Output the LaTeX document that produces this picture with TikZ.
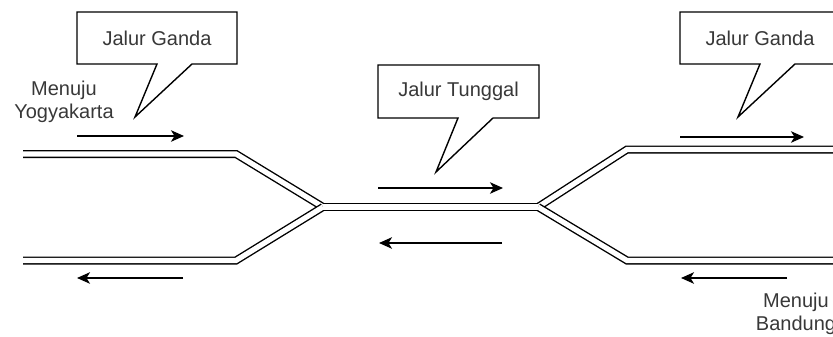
\documentclass[tikz,border=0pt]{standalone}
\usepackage{fontspec}
\setmainfont{Liberation Sans}
\usetikzlibrary{arrows.meta}
\begin{document}
\begin{tikzpicture}[x=1pt,y=-1pt,
  track/.style={line width=1.4pt,double=white,double distance=5.2pt,line join=miter},
  flow/.style={line width=1.5pt,-{Stealth[length=13pt,width=11.5pt,inset=3.5pt]}},
  callout/.style={draw=black,line width=1.4pt,fill=white,line join=miter},
  lbl/.style={text=black!78,font=\fontsize{20}{23}\selectfont,align=center,inner sep=0pt}]
\useasboundingbox (0,0) rectangle (833,337);
\clip (0,0) rectangle (833,337);

% track coordinates
\coordinate (tlA) at (23,154);
\coordinate (tlB) at (236,154);
\coordinate (blA) at (23,260.5);
\coordinate (blB) at (236,260.5);
\coordinate (jl) at (323,207);
\coordinate (jr) at (538,207);
\coordinate (trB) at (627,149.5);
\coordinate (trA) at (845,149.5);
\coordinate (brB) at (627,260.5);
\coordinate (brA) at (845,260.5);

\draw[track] (tlA) -- (tlB) -- (jl);
\draw[track] (blA) -- (blB) -- (jl);
\draw[track] (jr) -- (trB) -- (trA);
\draw[track] (jr) -- (brB) -- (brA);
\draw[track] (jl) -- (jr);

% flow arrows
\coordinate (a1s) at (77,136);  \coordinate (a1e) at (184,136);
\coordinate (a2s) at (183,278); \coordinate (a2e) at (77,278);
\coordinate (a3s) at (378,188); \coordinate (a3e) at (503,188);
\coordinate (a4s) at (502,243); \coordinate (a4e) at (379,243);
\coordinate (a5s) at (680,137); \coordinate (a5e) at (804,137);
\coordinate (a6s) at (787,278); \coordinate (a6e) at (681,278);
\draw[flow] (a1s) -- (a1e);
\draw[flow] (a2s) -- (a2e);
\draw[flow] (a3s) -- (a3e);
\draw[flow] (a4s) -- (a4e);
\draw[flow] (a5s) -- (a5e);
\draw[flow] (a6s) -- (a6e);

% callouts
\draw[callout] (77,12) -- (237,12) -- (237,64) -- (192,64) -- (135,117) -- (157,64) -- (77,64) -- cycle;
\node[lbl] (c1) at (157,38) {Jalur Ganda};

\draw[callout] (378,65) -- (539,65) -- (539,118) -- (493,118) -- (436,172) -- (458,118) -- (378,118) -- cycle;
\node[lbl] (c2) at (458.5,91.5) {Jalur Tunggal};

\draw[callout] (680,12) -- (840,12) -- (840,64) -- (795,64) -- (738,117) -- (760,64) -- (680,64) -- cycle;
\node[lbl] (c3) at (760,38) {Jalur Ganda};

% destination labels
\node[lbl] (yog) at (64,101.5) {Menuju\\Yogyakarta};
\node[lbl] (bdg) at (796,314) {Menuju\\Bandung};
\end{tikzpicture}
\end{document}
